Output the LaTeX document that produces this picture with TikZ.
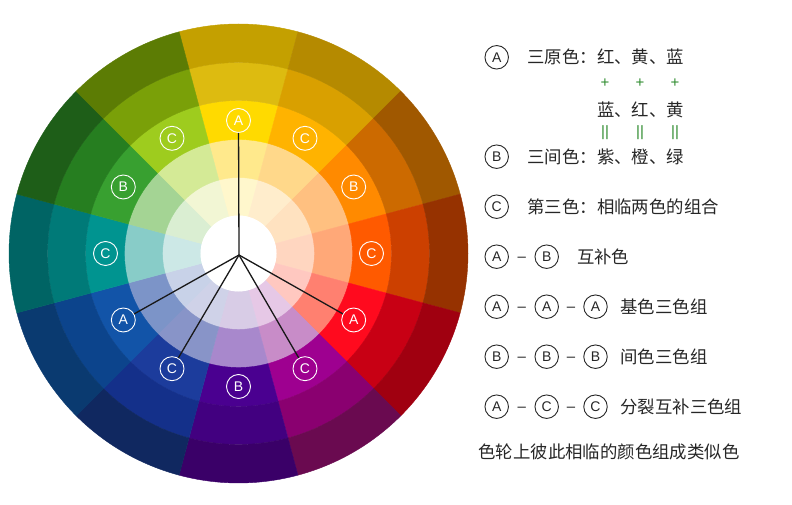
\documentclass[tikz,border=0pt]{standalone}
\usepackage{fontspec}
\setmainfont{Liberation Sans}
\newfontfamily\cjk{Noto Sans CJK SC}
\usepackage{xcolor}
\usepackage{tikz}

% ring 1 = palest (inner) ... ring 5 = darkest (outer)
\definecolor{ye1}{HTML}{FFF7CC}\definecolor{ye2}{HTML}{FFE98C}\definecolor{ye3}{HTML}{FFDA00}\definecolor{ye4}{HTML}{DDBB10}\definecolor{ye5}{HTML}{C4A000}
\definecolor{yo1}{HTML}{FFEDCC}\definecolor{yo2}{HTML}{FFD88A}\definecolor{yo3}{HTML}{FFB300}\definecolor{yo4}{HTML}{D9A000}\definecolor{yo5}{HTML}{B58A00}
\definecolor{or1}{HTML}{FFE2C0}\definecolor{or2}{HTML}{FFC080}\definecolor{or3}{HTML}{FF8A00}\definecolor{or4}{HTML}{CC6A00}\definecolor{or5}{HTML}{A05800}
\definecolor{ro1}{HTML}{FFD6C0}\definecolor{ro2}{HTML}{FFA878}\definecolor{ro3}{HTML}{FF5A00}\definecolor{ro4}{HTML}{CC4000}\definecolor{ro5}{HTML}{963200}
\definecolor{re1}{HTML}{FFC8C0}\definecolor{re2}{HTML}{FF8070}\definecolor{re3}{HTML}{FF0A1E}\definecolor{re4}{HTML}{C80014}\definecolor{re5}{HTML}{A00010}
\definecolor{rv1}{HTML}{E6C8E6}\definecolor{rv2}{HTML}{C88CC8}\definecolor{rv3}{HTML}{9E0090}\definecolor{rv4}{HTML}{8A0070}\definecolor{rv5}{HTML}{6A0A50}
\definecolor{vi1}{HTML}{D8CCE6}\definecolor{vi2}{HTML}{A888CC}\definecolor{vi3}{HTML}{4A0090}\definecolor{vi4}{HTML}{420080}\definecolor{vi5}{HTML}{3A0068}
\definecolor{bv1}{HTML}{CFD2E8}\definecolor{bv2}{HTML}{8894C8}\definecolor{bv3}{HTML}{1C3C9C}\definecolor{bv4}{HTML}{14308A}\definecolor{bv5}{HTML}{102860}
\definecolor{bl1}{HTML}{C8D2E8}\definecolor{bl2}{HTML}{7C94C8}\definecolor{bl3}{HTML}{1254A8}\definecolor{bl4}{HTML}{0C448C}\definecolor{bl5}{HTML}{0A3A70}
\definecolor{bg1}{HTML}{CCE8E6}\definecolor{bg2}{HTML}{88CCC8}\definecolor{bg3}{HTML}{009490}\definecolor{bg4}{HTML}{007A78}\definecolor{bg5}{HTML}{006464}
\definecolor{gr1}{HTML}{DAEED2}\definecolor{gr2}{HTML}{A4D494}\definecolor{gr3}{HTML}{38A030}\definecolor{gr4}{HTML}{267E20}\definecolor{gr5}{HTML}{1E5E18}
\definecolor{yg1}{HTML}{F2F6D4}\definecolor{yg2}{HTML}{D4EA96}\definecolor{yg3}{HTML}{9ECC1E}\definecolor{yg4}{HTML}{7AA008}\definecolor{yg5}{HTML}{5C7C04}
\definecolor{keyink}{HTML}{262626}
\definecolor{linkgreen}{HTML}{2E8B2E}

\tikzset{
  wheeltag/.style={circle, draw=white, line width=0.9pt, text=white, minimum size=24pt, inner sep=0pt,
    font=\fontsize{14}{14}\selectfont},
  keytag/.style={circle, draw=keyink, line width=0.9pt, text=keyink, minimum size=23.5pt, inner sep=0pt,
    font=\fontsize{14}{14}\selectfont},
  keydash/.style={text=keyink, inner sep=0pt, yshift=-2.5pt, font=\fontsize{15}{15}\selectfont},
  keytext/.style={anchor=west, inner sep=0pt, text=keyink, font=\cjk\fontsize{17.4}{17.4}\selectfont},
  linkmark/.style={text=linkgreen, inner sep=0pt, font=\fontsize{15}{15}\selectfont},
  spoke/.style={draw=black!90, line width=1.3pt}
}

\begin{document}
\begin{tikzpicture}[x=1pt, y=1pt, line width=0.8pt]
  \useasboundingbox (0,0) rectangle (792,505);

  % -- the wheel: twelve hues, five rings each ---------------------------
  \begin{scope}[shift={(238.5,251.5)}]
    \foreach \ang/\hue in {90/ye, 60/yo, 30/or, 0/ro, -30/re, -60/rv,
                           -90/vi, -120/bv, -150/bl, 180/bg, 150/gr, 120/yg} {
      \foreach \ring/\rin/\rout in {1/38/76, 2/76/114, 3/114/153, 4/153/191, 5/191/229.5} {
        \filldraw[fill=\hue\ring, draw=\hue\ring, line width=0.4pt]
          (\ang-15:\rin) arc[start angle=\ang-15, end angle=\ang+15, radius=\rin]
          -- (\ang+15:\rout) arc[start angle=\ang+15, end angle=\ang-15, radius=\rout] -- cycle;
      }
    }
    \fill[white] (0,0) circle (38);
    \coordinate (hub) at (0.5,-1.5);

    % primaries, secondaries, tertiaries
    \node[wheeltag] (pY) at (90:133) {A};
    \node[wheeltag] (pR) at (-30:133) {A};
    \node[wheeltag] (pB) at (210:133) {A};
    \node[wheeltag] (sO) at (30:133) {B};
    \node[wheeltag] (sV) at (-90:133) {B};
    \node[wheeltag] (sG) at (150:133) {B};
    \node[wheeltag] (tYO) at (60:133) {C};
    \node[wheeltag] (tRO) at (0:133) {C};
    \node[wheeltag] (tRV) at (-60:133) {C};
    \node[wheeltag] (tBV) at (240:133) {C};
    \node[wheeltag] (tBG) at (180:133) {C};
    \node[wheeltag] (tYG) at (120:133) {C};
  \end{scope}

  \foreach \tag in {pY, pR, pB, tRV, tBV}
    \draw[spoke] (hub) -- (\tag);

  % -- key ----------------------------------------------------------------
  \node[keytag] (kA) at (496.7,447.7) {A};
  \node[keytext] (kAtext) at (527,447.7) {三原色：红、黄、蓝};
  \foreach \x/\n in {605/1, 640/2, 675/3} {
    \node[linkmark] (plus\n) at (\x,422.3) {+};
    \node[linkmark] (bars\n) at (\x,372) {||};
  }
  \node[keytext] (mixrow) at (596.7,395) {蓝、红、黄};
  \node[keytag] (kB) at (496.7,348.3) {B};
  \node[keytext] (kBtext) at (527,348.3) {三间色：紫、橙、绿};
  \node[keytag] (kC) at (496.7,298.3) {C};
  \node[keytext] (kCtext) at (527,298.3) {第三色：相临两色的组合};

  % complementary pair
  \node[keytag] (compA) at (496.7,248.3) {A};
  \node[keydash] (compD) at (521.7,248.3) {–};
  \node[keytag] (compB) at (546.7,248.3) {B};
  \node[keytext] (compT) at (576.7,248.3) {互补色};

  % primary triad
  \node[keytag] (triA1) at (496.7,198.3) {A};
  \node[keydash] (triD1) at (521.7,198.3) {–};
  \node[keytag] (triA2) at (546.7,198.3) {A};
  \node[keydash] (triD2) at (571,198.3) {–};
  \node[keytag] (triA3) at (595.5,198.3) {A};
  \node[keytext] (triT) at (620,198.3) {基色三色组};

  % secondary triad
  \node[keytag] (secB1) at (496.7,148.3) {B};
  \node[keydash] (secD1) at (521.7,148.3) {–};
  \node[keytag] (secB2) at (546.7,148.3) {B};
  \node[keydash] (secD2) at (571,148.3) {–};
  \node[keytag] (secB3) at (595.5,148.3) {B};
  \node[keytext] (secT) at (620,148.3) {间色三色组};

  % split complementary
  \node[keytag] (splA) at (496.7,98.3) {A};
  \node[keydash] (splD1) at (521.7,98.3) {–};
  \node[keytag] (splC1) at (546.7,98.3) {C};
  \node[keydash] (splD2) at (571,98.3) {–};
  \node[keytag] (splC2) at (595.5,98.3) {C};
  \node[keytext] (splT) at (620,98.3) {分裂互补三色组};

  \node[keytext] (analog) at (478,53.3) {色轮上彼此相临的颜色组成类似色};

\end{tikzpicture}
\end{document}
